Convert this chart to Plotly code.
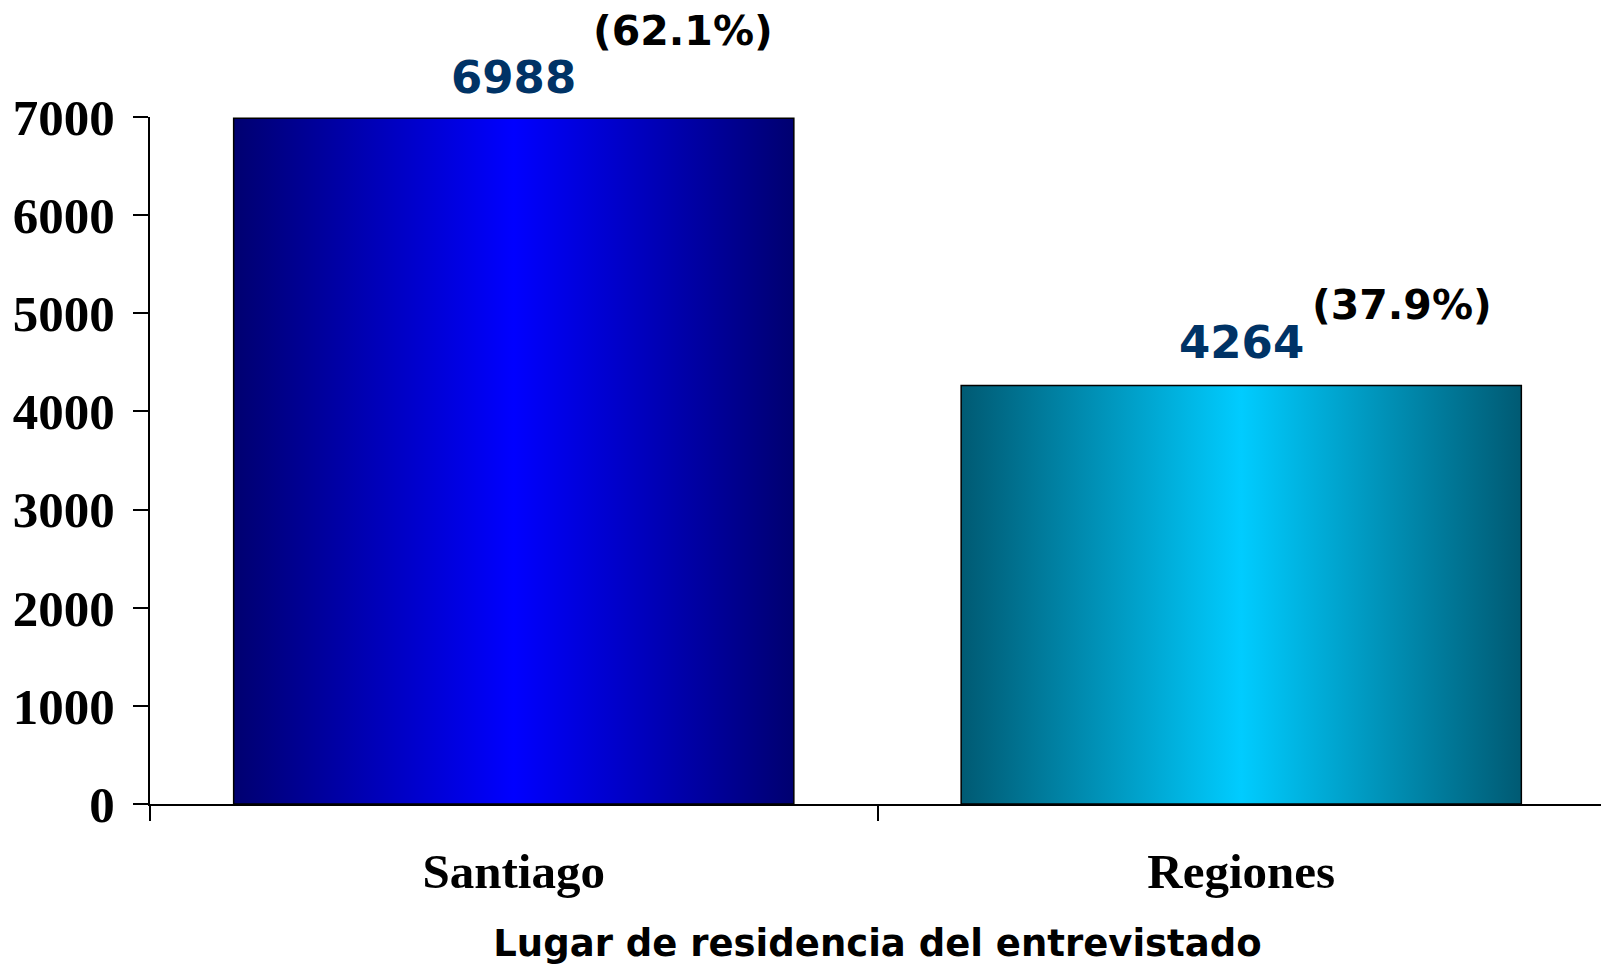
import plotly.graph_objects as go

# ---- data ----
categories = ["Santiago", "Regiones"]
counts = [6988, 4264]
percent_labels = ["(62.1%)", "(37.9%)"]
y_tick_values = [0, 1000, 2000, 3000, 4000, 5000, 6000, 7000]
x_title = "Lugar de residencia del entrevistado"

# ---- styles ----
edge_colors = ["#000070", "#005a73"]
center_colors = ["#0000ff", "#00ccff"]
BAR_W = 0.77
count_shift = [(0, 41), (0, 43)]
pct_shift = [(169, 87), (161, 81)]

fig = go.Figure()
positions = list(range(len(categories)))

for i, v in zip(positions, counts):
    x0, x1 = i - BAR_W / 2, i + BAR_W / 2
    fig.add_trace(go.Scatter(
        x=[x0, x1, x1, x0, x0], y=[0, 0, v, v, 0],
        fill="toself", mode="lines", line=dict(width=0),
        fillgradient=dict(type="horizontal",
                          colorscale=[[0, edge_colors[i]], [0.5, center_colors[i]], [1, edge_colors[i]]]),
        hoverinfo="skip", showlegend=False))

fig.add_trace(go.Bar(
    x=positions, y=counts, width=BAR_W, xaxis="x2", yaxis="y",
    marker=dict(color="rgba(0,0,0,0)", line=dict(color="black", width=1.5)),
    showlegend=False, hovertemplate="%{y}<extra></extra>"))

for i, v in enumerate(counts):
    fig.add_annotation(x=i, y=v, xref="x", yref="y", text=str(v), showarrow=False,
                       xshift=count_shift[i][0], yshift=count_shift[i][1],
                       font=dict(family="DejaVu Sans", size=45, color="#003366", weight="bold"))
    fig.add_annotation(x=i, y=v, xref="x", yref="y", text=percent_labels[i], showarrow=False,
                       xshift=pct_shift[i][0], yshift=pct_shift[i][1],
                       font=dict(family="DejaVu Sans", size=41, color="black", weight="bold"))

fig.update_layout(
    width=1601, height=958,
    margin=dict(l=142, r=4, t=109, b=162),
    paper_bgcolor="white", plot_bgcolor="white",
    xaxis=dict(range=[-0.5, 1.5], tickvals=[-0.5, 0.5, 1.5], ticks="outside", ticklen=15,
               tickwidth=2, tickcolor="black", showticklabels=False, showline=True,
               linewidth=2, linecolor="black", showgrid=False, zeroline=False, automargin=False,
               title=dict(text=x_title, standoff=110,
                          font=dict(family="DejaVu Sans", size=37, color="black", weight="bold"))),
    xaxis2=dict(overlaying="x", matches="x", anchor="y", side="bottom",
                tickvals=positions, ticktext=categories, ticks="", showline=False,
                showgrid=False, zeroline=False, ticklabelstandoff=34, automargin=False,
                tickfont=dict(family="Liberation Serif", size=49, color="black", weight="bold")),
    yaxis=dict(range=[0, 7000], tickvals=y_tick_values, ticks="outside", ticklen=15,
               tickwidth=2, tickcolor="black", showline=True, linewidth=2, linecolor="black",
               showgrid=False, zeroline=False, ticklabelstandoff=8, automargin=False,
               tickfont=dict(family="Liberation Serif", size=51, color="black", weight="bold")),
)

fig.write_html("out.html")
